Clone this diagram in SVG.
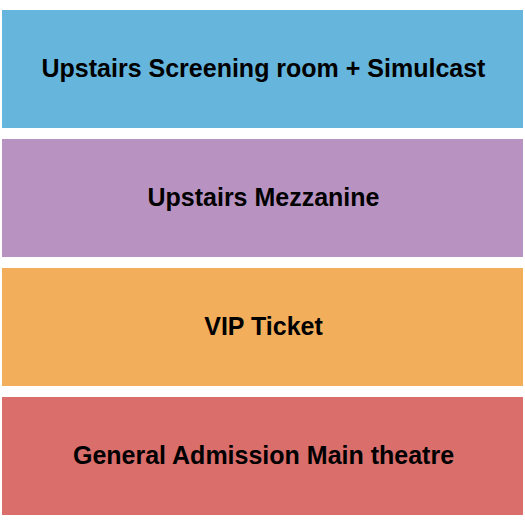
<svg xmlns="http://www.w3.org/2000/svg" width="525" height="525" viewBox="0 0 525 525">
<style>
.lbl{font-family:"Liberation Sans",Arial,sans-serif;font-weight:bold;font-size:25px;fill:#000;text-anchor:middle}
</style>
<rect width="525" height="525" fill="#ffffff"/>
<g id="upstairs-screening">
<rect x="2" y="10" width="521" height="118" fill="#65b5dc"/>
<text class="lbl" x="263.5" y="77">Upstairs Screening room + Simulcast</text>
</g>
<g id="upstairs-mezzanine">
<rect x="2" y="139" width="521" height="118" fill="#b893c1"/>
<text class="lbl" x="263.5" y="206">Upstairs Mezzanine</text>
</g>
<g id="vip-ticket">
<rect x="2" y="268" width="521" height="118" fill="#f3ae5b"/>
<text class="lbl" x="263.5" y="335">VIP Ticket</text>
</g>
<g id="general-admission">
<rect x="2" y="397" width="521" height="118" fill="#d96e6b"/>
<text class="lbl" x="263.5" y="464">General Admission Main theatre</text>
</g>
<g id="connectors"></g>
</svg>
